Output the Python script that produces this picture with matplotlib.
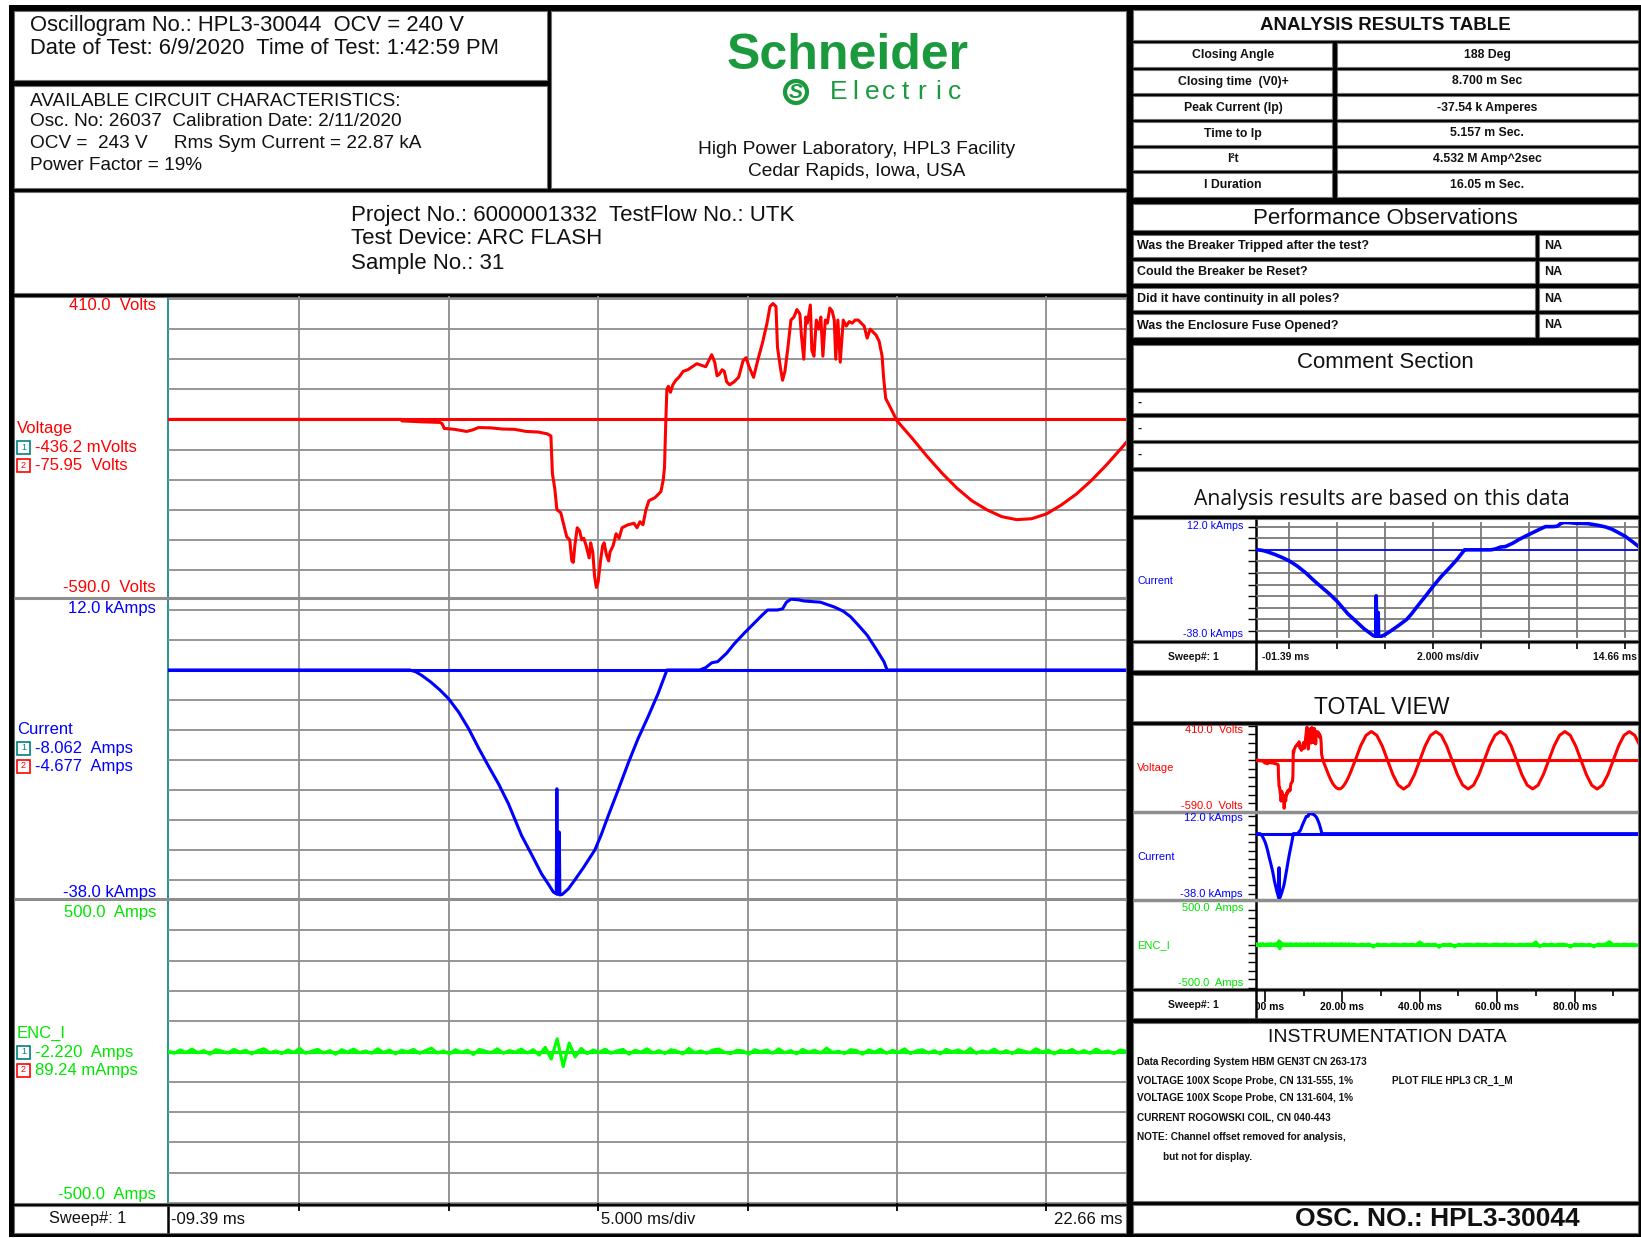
import matplotlib.pyplot as plt
import numpy as np
from matplotlib.patches import Rectangle, Circle

W, H = 1641, 1238

# ---------------- data ----------------
t_start, t_end = -9.39, 22.66
grid_ms = [-5, 0, 5, 10, 15, 20]

# voltage (ms, V)
volt_pre = [(-9.39, 0), (-1.6, 0), (-1.56, -5), (-0.9, -8), (-0.3, -10), (-0.22, -14),
            (-0.15, -30), (0.2, -33), (0.6, -40), (0.8, -35), (1.0, -27), (1.4, -28),
            (1.8, -32), (2.2, -33), (2.6, -40), (3.0, -42), (3.3, -48), (3.42, -55)]
volt_arc = [(3.47, -180), (3.55, -230), (3.62, -300), (3.75, -310), (3.85, -350), (3.95, -390),
            (4.05, -400), (4.12, -470), (4.17, -475), (4.22, -420), (4.3, -360), (4.38, -370),
            (4.45, -400), (4.52, -395), (4.6, -420), (4.7, -460), (4.75, -410), (4.82, -440),
            (4.88, -520), (4.94, -558), (5.0, -540), (5.08, -470), (5.15, -420), (5.2, -410),
            (5.28, -450), (5.35, -470), (5.4, -440), (5.5, -420), (5.6, -380), (5.7, -395),
            (5.8, -360), (6.0, -350), (6.2, -345), (6.3, -360), (6.4, -340), (6.5, -350),
            (6.6, -300), (6.7, -270), (6.9, -260), (7.1, -240), (7.18, -200), (7.22, -160),
            (7.26, -20), (7.3, 100), (7.35, 110), (7.42, 90), (7.5, 115), (7.6, 130),
            (7.7, 140), (7.85, 160), (8.0, 165), (8.15, 175), (8.3, 185), (8.45, 180),
            (8.6, 175), (8.7, 195), (8.8, 215), (8.9, 190), (8.98, 145), (9.05, 150),
            (9.15, 165), (9.22, 160), (9.3, 125), (9.4, 115), (9.55, 125), (9.7, 140),
            (9.85, 195), (9.95, 205), (10.05, 175), (10.2, 140), (10.35, 200), (10.5, 255),
            (10.65, 320), (10.75, 375), (10.85, 385), (10.95, 375), (11.0, 240), (11.1, 170),
            (11.17, 130), (11.25, 160), (11.35, 240), (11.45, 330), (11.55, 340), (11.65, 365),
            (11.75, 350), (11.8, 280), (11.88, 200), (11.95, 340), (12.0, 320), (12.1, 380),
            (12.15, 230), (12.22, 210), (12.3, 330), (12.38, 300), (12.45, 340), (12.52, 210),
            (12.6, 330), (12.67, 320), (12.75, 370), (12.83, 360), (12.9, 330), (12.95, 200),
            (13.02, 330), (13.1, 190), (13.2, 330), (13.3, 310), (13.4, 325), (13.5, 320),
            (13.6, 330), (13.7, 330), (13.8, 320), (13.9, 310), (14.0, 270), (14.1, 300),
            (14.2, 290), (14.3, 280), (14.4, 260), (14.5, 210), (14.55, 140), (14.62, 70),
            (14.8, 35), (15.0, -5)]
volt_sine = [(15.5, -62), (16.0, -122), (16.5, -178), (17.0, -228), (17.5, -270), (18.0, -300),
             (18.5, -323), (19.0, -333), (19.5, -330), (20.0, -314), (20.5, -284), (21.0, -248),
             (21.5, -203), (22.0, -152), (22.5, -96), (23.33, 0), (24.72, 168), (26.11, 290),
             (27.5, 334), (28.89, 290), (30.28, 167), (31.67, 0), (33.06, -168), (34.44, -289),
             (35.83, -335), (37.22, -290), (38.61, -168), (40.0, 0), (41.39, 167), (42.78, 289),
             (44.17, 333), (45.56, 290), (46.94, 168), (48.33, 0), (49.72, -167), (51.11, -290),
             (52.5, -334), (53.89, -289), (55.28, -167), (56.67, 0), (58.06, 168), (59.44, 290),
             (60.83, 335), (62.22, 290), (63.61, 168), (65.0, 0), (66.39, -168), (67.78, -290),
             (69.17, -333), (70.56, -290), (71.94, -167), (73.33, 0), (74.72, 167), (76.11, 289),
             (77.5, 334), (78.89, 290), (80.28, 168), (81.67, 0), (83.06, -167), (84.44, -290),
             (85.83, -335), (87.22, -289), (88.61, -168), (90.0, 0), (91.39, 168), (92.78, 290),
             (94.17, 333), (95.56, 290), (96.94, 167)]

# current (ms, kA)
curr_pts = [(-9.39, 0), (-1.3, 0), (-1.1, -0.3), (-0.9, -0.9), (-0.6, -2.0), (-0.3, -3.3),
            (0.0, -4.8), (0.33, -7.0), (0.67, -9.8), (1.0, -13.0), (1.33, -16.0), (1.67, -19.0),
            (2.0, -22.3), (2.44, -27.6), (2.8, -31.0), (3.11, -34.0), (3.35, -35.8), (3.5, -37.0),
            (3.6, -37.3), (3.62, -19.8), (3.64, -37.4), (3.7, -27.0), (3.72, -37.5), (3.8, -37.4),
            (4.0, -36.5), (4.22, -35.0), (4.5, -33.0), (4.89, -30.0), (5.1, -27.5), (5.33, -24.4),
            (5.67, -20.0), (6.0, -15.6), (6.33, -11.5), (6.67, -7.8), (7.0, -4.0), (7.28, -0.3),
            (7.3, 0), (8.4, 0), (8.6, 0.4), (8.8, 1.2), (9.0, 1.4), (9.3, 2.8), (9.56, 4.4),
            (9.9, 6.2), (10.22, 7.8), (10.5, 9.2), (10.67, 10.0), (11.0, 10.0), (11.17, 10.2),
            (11.3, 11.3), (11.45, 11.8), (11.7, 11.7), (11.89, 11.5), (12.44, 11.3), (12.9, 10.5),
            (13.2, 9.8), (13.44, 8.9), (13.7, 7.5), (14.0, 5.8), (14.3, 3.5), (14.56, 1.4),
            (14.67, 0), (96.9, 0)]

# enclosure current (A), 0.2 ms samples over the sweep, then 1 ms samples
enc_main = [2, -6, 5, -3, 8, -4, 3, -9, 6, 1, -5, 7, -2, 4, -8, 3, 9, -4, 2, -7,
            5, -3, 10, -6, 1, 7, -5, 3, -9, 6, -2, 8, -4, 2, -6, 9, -3, 5, -8, 4,
            -1, 7, -6, 3, 11, -5, 2, -8, 6, -3, 4, -10, 7, 1, -4, 9, -6, 3, -2, 8,
            -5, 6, -12, 14, -25, 42, -50, 28, -18, 10, -7, 5, -3, 8, -6, 2, 7, -9, 4, -2,
            9, -5, 3, -7, 6, 1, -8, 10, -4, 2, -6, 5, 8, -3, -7, 4, 2, -9, 6, -1,
            5, -6, 9, -4, 3, -8, 7, -2, 4, -5, 11, -3, 1, -7, 6, 3, -9, 5, -2, 8,
            -6, 4, -3, 9, -7, 2, 6, -5, 3, -8, 7, -1, 5, -4, 10, -6, 2, -3, 8, -5,
            3, -7, 6, 1, -4, 9, -2, 5, -8, 4, -1, 7, -5, 3, -6, 8, -3, 2, -7, 5, 1]
enc_tail = [4, -5, 3, -2, 6, -30, 5, -3, 2, -6, 4, 1, -4, 5, -2, 3, -5, 28, -4, 2,
            -3, 5, -32, 3, -2, 4, -28, 2, -5, 3, 1, -4, 6, -2, 3, -5, 2, 4, -3, 5,
            -2, 1, -4, 3, -2, 5, -3, 30, -25, 4, -2, 3, -5, 2, 4, -3, -30, 5, -2, 3,
            -4, 2, -28, 4, -3, 5, 32, -4, 2, -3, 5, -2, 3, -4]
enc_t_main = np.linspace(t_start, t_end, len(enc_main))
enc_t_tail = np.arange(23, 23 + len(enc_tail))

volt_t, volt_v = np.array(volt_pre + volt_arc + volt_sine).T
curr_t, curr_v = np.array(curr_pts).T
enc_t = np.concatenate([enc_t_main, enc_t_tail])
enc_v = np.array(enc_main + enc_tail)

RED, BLUE, GREEN, TEAL = '#ff0000', '#0000ff', '#00ff00', '#008080'
GREEN_TXT = '#00e600'
GRID = '#8e8e8e'

plt.rcParams.update({'font.family': ['Liberation Sans', 'DejaVu Sans']})
fig = plt.figure(figsize=(W / 100, H / 100), dpi=100)
fig.patch.set_facecolor('white')


def px_axes(x0, y0, x1, y1):
    ax = fig.add_axes([x0 / W, 1 - y1 / H, (x1 - x0) / W, (y1 - y0) / H])
    ax.set_facecolor('none')
    return ax


bg = px_axes(0, 0, W, H)
bg.set_xlim(0, W)
bg.set_ylim(H, 0)
bg.axis('off')


def box(x0, y0, x1, y1):
    bg.add_patch(Rectangle((x0, y0), x1 - x0, y1 - y0, facecolor='white',
                           edgecolor='#707070', lw=0.8))


def txt(x, y, s, size=10, color='#111111', ha='left', weight='normal', **kw):
    bg.text(x, y, s, fontsize=size, color=color, ha=ha, va='center',
            fontweight=weight, **kw)


def hline(y, x0, x1, color=GRID, lw=2.2):
    bg.plot([x0, x1], [y, y], color=color, lw=lw, solid_capstyle='butt')


def vline(x, y0, y1, color='black', lw=1.5):
    bg.plot([x, x], [y0, y1], color=color, lw=lw, solid_capstyle='butt')


# page frame
bg.add_patch(Rectangle((9, 5), W - 9, H - 6, facecolor='black', lw=0))

# left column boxes
box(14, 11, 547, 80)
box(14, 86, 547, 188)
box(551, 11, 1126, 188)
box(14, 192, 1126, 293)
box(14, 297, 1126, 1203)
box(14, 1206, 1126, 1233)

# right column boxes
RX0, RX1 = 1133, 1638
box(RX0, 10, RX1, 40)
table_rows = [(43, 67), (70, 93), (96, 119), (122, 145), (148, 170), (173, 197)]
for y0, y1 in table_rows:
    box(RX0, y0, 1332, y1)
    box(1337, y0, RX1, y1)
box(RX0, 204, RX1, 230)
obs_rows = [(235, 257), (261, 283), (288, 310), (314, 337)]
for y0, y1 in obs_rows:
    box(RX0, y0, 1535, y1)
    box(1539, y0, RX1, y1)
box(RX0, 345, RX1, 388)
comment_rows = [(392, 413), (417, 440), (443, 467)]
for y0, y1 in comment_rows:
    box(RX0, y0, RX1, y1)
box(RX0, 471, RX1, 515)
box(RX0, 519, RX1, 640)
box(RX0, 643, RX1, 670)
box(RX0, 675, RX1, 721)
box(RX0, 725, RX1, 988)
box(RX0, 991, RX1, 1018)
box(RX0, 1023, RX1, 1201)
box(RX0, 1205, RX1, 1233)

# ---------------- header text ----------------
txt(30, 25, 'Oscillogram No.: HPL3-30044  OCV = 240 V', 15.8)
txt(30, 49, 'Date of Test: 6/9/2020  Time of Test: 1:42:59 PM', 15.8)
txt(30, 101, 'AVAILABLE CIRCUIT CHARACTERISTICS:', 13.7)
txt(30, 122, 'Osc. No: 26037  Calibration Date: 2/11/2020', 13.7)
txt(30, 144, 'OCV =  243 V     Rms Sym Current = 22.87 kA', 13.7)
txt(30, 166, 'Power Factor = 19%', 13.7)

LOGO = '#1a9a3c'
txt(848, 56, 'Schneider', 36, color=LOGO, ha='center', weight='bold')
for i, ch in enumerate('Electric'):
    txt(839 + i * 16.5, 92, ch, 19, color=LOGO, ha='center')
bg.add_patch(Circle((796, 92), 11, facecolor='none', edgecolor=LOGO, lw=3))
txt(796, 92, 'S', 15, color=LOGO, ha='center', weight='bold', style='italic')
txt(857, 149, 'High Power Laboratory, HPL3 Facility', 13.8, ha='center')
txt(857, 171, 'Cedar Rapids, Iowa, USA', 13.8, ha='center')

txt(351, 215, 'Project No.: 6000001332  TestFlow No.: UTK', 16)
txt(351, 239, 'Test Device: ARC FLASH', 16)
txt(351, 263, 'Sample No.: 31', 16)

# ---------------- right column text ----------------
RC = (RX0 + RX1) / 2
txt(RC, 25, 'ANALYSIS RESULTS TABLE', 13.5, ha='center', weight='bold')
table_names = ['Closing Angle', 'Closing time  (V0)+', 'Peak Current (Ip)', 'Time to Ip',
               'I²t', 'I Duration']
table_values = ['188 Deg', '8.700 m Sec', '-37.54 k Amperes', '5.157 m Sec.',
                '4.532 M Amp^2sec', '16.05 m Sec.']
for (y0, y1), name, val in zip(table_rows, table_names, table_values):
    txt(1233, (y0 + y1) / 2, name, 8.8, ha='center', weight='bold')
    txt(1487, (y0 + y1) / 2, val, 8.8, ha='center', weight='bold')

txt(RC, 218, 'Performance Observations', 16, ha='center')
obs_questions = ['Was the Breaker Tripped after the test?', 'Could the Breaker be Reset?',
                 'Did it have continuity in all poles?', 'Was the Enclosure Fuse Opened?']
obs_answers = ['NA', 'NA', 'NA', 'NA']
for (y0, y1), q, a in zip(obs_rows, obs_questions, obs_answers):
    txt(1137, (y0 + y1) / 2, q, 9, weight='bold')
    txt(1544, (y0 + y1) / 2, a, 9, weight='bold')

txt(RC, 362, 'Comment Section', 16, ha='center')
for y0, y1 in comment_rows:
    txt(1138, (y0 + y1) / 2, '-', 9, weight='bold')

txt(1382, 500, 'Analysis results are based on this data', 15.2, ha='center',
    family=['Open Sans', 'DejaVu Sans'])
txt(1382, 708, 'TOTAL VIEW', 16.5, ha='center')

txt(1387, 1037, 'INSTRUMENTATION DATA', 14, ha='center')
instr_lines = [(1137, 1062, 'Data Recording System HBM GEN3T CN 263-173'),
               (1137, 1081, 'VOLTAGE 100X Scope Probe, CN 131-555, 1%'),
               (1392, 1081, 'PLOT FILE HPL3 CR_1_M'),
               (1137, 1098, 'VOLTAGE 100X Scope Probe, CN 131-604, 1%'),
               (1137, 1118, 'CURRENT ROGOWSKI COIL, CN 040-443'),
               (1137, 1137, 'NOTE: Channel offset removed for analysis,'),
               (1163, 1157, 'but not for display.')]
for x, y, s in instr_lines:
    txt(x, y, s, 7.2, weight='bold')
txt(1437, 1219, 'OSC. NO.: HPL3-30044', 19, ha='center', weight='bold')

# ---------------- main chart ----------------
PX0, PX1 = 168, 1126
vline(PX0, 297, 1203, color=TEAL, lw=1.2)
hline(597.5, 14, 1126)
hline(898.5, 14, 1126)
vline(PX0, 1206, 1233, lw=1.8)


def channel(y0, y1, lo, hi, step, color, t, v):
    ax = px_axes(PX0, y0, PX1, y1)
    ax.set_xlim(t_start, t_end)
    ax.set_ylim(lo, hi)
    ax.set_xticks(grid_ms)
    ax.set_yticks(np.arange(np.ceil(lo / step) * step, hi, step))
    ax.grid(True, color=GRID, lw=1.3)
    ax.tick_params(length=0, labelbottom=False, labelleft=False)
    for s in ax.spines.values():
        s.set_visible(False)
    ax.axhline(0, color=color, lw=2.2)
    ax.plot(t, v, color=color, lw=2.2)
    return ax


channel(296, 597, -590, 410, 100, RED, volt_t, volt_v)
channel(598, 898, -38, 12, 5, BLUE, curr_t, curr_v)
channel(900, 1203, -500, 500, 100, GREEN, enc_t, enc_v)

# main sweep row
sw = px_axes(PX0, 1203, PX1, 1233)
sw.set_xlim(t_start, t_end)
sw.set_ylim(1, 0)
sw.axis('off')
sw.vlines(grid_ms, 0, 0.27, color='black', lw=1.3)
txt(88, 1219, 'Sweep#: 1', 11.8, ha='center')
txt(171, 1219, '-09.39 ms', 12)
txt(648, 1219, '5.000 ms/div', 12, ha='center')
txt(1123, 1219, '22.66 ms', 12, ha='right')

# channel labels in left column
label_blocks = [
    (RED, 305, '410.0  Volts', 588, '-590.0  Volts', 428, 'Voltage',
     ['-436.2 mVolts', '-75.95  Volts']),
    (BLUE, 608, '12.0 kAmps', 892, '-38.0 kAmps', 729, 'Current',
     ['-8.062  Amps', '-4.677  Amps']),
    (GREEN_TXT, 912, '500.0  Amps', 1194, '-500.0  Amps', 1033, 'ENC_I',
     ['-2.220  Amps', '89.24 mAmps']),
]
for color, ytop, top, ybot, bot, yname, name, cursors in label_blocks:
    txt(156, ytop, top, 12, color=color, ha='right')
    txt(156, ybot, bot, 12, color=color, ha='right')
    txt(17, yname, name, 12, color=color)
    for k, (cur, bcol) in enumerate(zip(cursors, [TEAL, RED])):
        yc = yname + 19 + k * 18
        bg.add_patch(Rectangle((17, yc - 6.5), 13, 13, facecolor='white', edgecolor=bcol, lw=1.2))
        txt(23.5, yc, str(k + 1), 6.5, color=bcol, ha='center')
        txt(35, yc, cur, 12, color=color)

# ---------------- analysis window (current only) ----------------
SX0 = 1256
vline(SX0, 519, 670, lw=1.8)
sm = px_axes(SX0, 522, RX1, 638)
sm.set_xlim(-1.39, 14.53)
sm.set_ylim(-38, 12)
sm.set_xticks(np.arange(0, 15, 2))
sm.set_yticks(np.arange(-35, 12, 5))
sm.grid(True, color='#7a7a7a', lw=1.3)
sm.tick_params(axis='x', length=0, labelbottom=False)
sm.tick_params(axis='y', direction='out', length=6, width=1, labelleft=False)
for s in sm.spines.values():
    s.set_visible(False)
sm.axhline(0, color=BLUE, lw=1.2)
sm.plot(curr_t, curr_v, color=BLUE, lw=2.6)
txt(1243, 526, '12.0 kAmps', 7.7, color=BLUE, ha='right')
txt(1137, 581, 'Current', 7.7, color=BLUE)
txt(1243, 634, '-38.0 kAmps', 7.7, color=BLUE, ha='right')

ssw = px_axes(SX0, 643, RX1, 670)
ssw.set_xlim(-1.39, 14.53)
ssw.set_ylim(1, 0)
ssw.axis('off')
ssw.vlines(np.arange(0, 15, 2), 0, 0.22, color='black', lw=1.2)
txt(1193, 657, 'Sweep#: 1', 7.5, ha='center', weight='bold')
txt(1262, 657, '-01.39 ms', 7.5, weight='bold')
txt(1448, 657, '2.000 ms/div', 7.5, ha='center', weight='bold')
txt(1637, 657, '14.66 ms', 7.5, ha='right', weight='bold')

# ---------------- total view ----------------
tv_xlim = (-2.33, 96.4)
vline(SX0, 725, 1018, lw=1.8)
hline(812, RX0, RX1, lw=2.5)
hline(900, RX0, RX1, lw=2.5)
tv_channels = [(725, 811, -590, 410, 100, RED, volt_t, volt_v),
               (813, 899, -38, 12, 5, BLUE, curr_t, curr_v),
               (901, 988, -500, 500, 100, GREEN, enc_t, enc_v)]
for y0, y1, lo, hi, step, color, t, v in tv_channels:
    ax = px_axes(SX0, y0, RX1, y1)
    ax.set_xlim(*tv_xlim)
    ax.set_ylim(lo, hi)
    ax.set_xticks([])
    ax.set_yticks(np.arange(np.ceil(lo / step) * step, hi, step))
    ax.tick_params(axis='y', direction='out', length=6, width=1, labelleft=False)
    for s in ax.spines.values():
        s.set_visible(False)
    ax.axhline(0, color=color, lw=2.2)
    ax.plot(t, v, color=color, lw=2.2)

tv_labels = [(RED, 730, '410.0  Volts', 768, 'Voltage', 806, '-590.0  Volts'),
             (BLUE, 818, '12.0 kAmps', 857, 'Current', 894, '-38.0 kAmps'),
             (GREEN_TXT, 908, '500.0  Amps', 945, 'ENC_I', 983, '-500.0  Amps')]
for color, y_top, top, y_name, name, y_bot, bot in tv_labels:
    txt(1243, y_top, top, 8, color=color, ha='right')
    txt(1137, y_name, name, 8, color=color)
    txt(1243, y_bot, bot, 8, color=color, ha='right')

tsw = px_axes(SX0, 991, RX1, 1018)
tsw.set_xlim(*tv_xlim)
tsw.set_ylim(1, 0)
tsw.axis('off')
tsw.vlines(np.arange(10, 100, 20), 0, 0.2, color='black', lw=1.2)
tsw.vlines(np.arange(0, 100, 20), 0, 0.42, color='black', lw=1.2)
for t in np.arange(0, 100, 20):
    tsw.text(t, 0.58, f'{t:.2f} ms', fontsize=7.5, fontweight='bold', ha='center',
             va='center', clip_on=True)
txt(1193, 1005, 'Sweep#: 1', 7.5, ha='center', weight='bold')

fig.savefig('out.png', dpi=100)
